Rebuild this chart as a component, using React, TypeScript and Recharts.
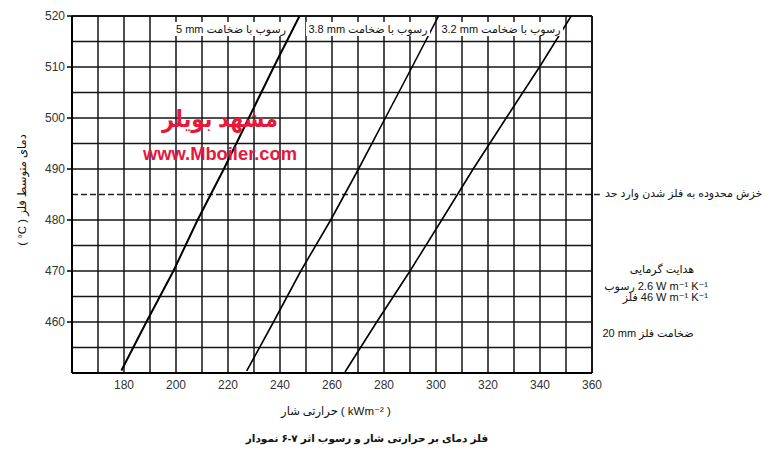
import React from "react";
import { LineChart, Line, XAxis, YAxis, ReferenceLine } from "recharts";

// Heat flux (kW/m^2) vs mean metal temperature (°C)
const deposit5mm = [
  { x: 179, y: 450.5 }, { x: 188.6, y: 460 }, { x: 199, y: 470 }, { x: 208.3, y: 480 },
  { x: 218.4, y: 490 }, { x: 228, y: 500 }, { x: 237.6, y: 510 }, { x: 247.5, y: 520 },
];
const deposit38mm = [
  { x: 227.2, y: 450.4 }, { x: 237.5, y: 460 }, { x: 248, y: 470 }, { x: 259.5, y: 480 },
  { x: 270.2, y: 490 }, { x: 280.5, y: 500 }, { x: 290.8, y: 510 }, { x: 301, y: 520 },
];
const deposit32mm = [
  { x: 265, y: 450.2 }, { x: 277.2, y: 460 }, { x: 290, y: 470 }, { x: 302.2, y: 480 },
  { x: 314.3, y: 490 }, { x: 327, y: 500 }, { x: 339.8, y: 510 }, { x: 352, y: 520 },
];

const xTicks = [180, 200, 220, 240, 260, 280, 300, 320, 340, 360];
const yTicks = [460, 470, 480, 490, 500, 510, 520];
const gridX = [160, 170, 180, 190, 200, 210, 220, 230, 240, 250, 260, 270, 280, 290, 300, 310, 320, 330, 340, 350, 360];
const gridY = [450, 455, 460, 465, 470, 475, 480, 490, 495, 500, 505, 510, 515, 520];
const creepLimit = 485;

// Text (word lists in reading order)
const label5mm = ["رسوب", "با", "ضخامت", "5 mm"];
const label38mm = ["رسوب", "با", "ضخامت", "3.8 mm"];
const label32mm = ["رسوب", "با", "ضخامت", "3.2 mm"];
const creepText = ["حد", "وارد", "شدن", "فلز", "به", "محدوده", "خزش"];
const conductTitle = ["هدایت", "گرمایی"];
const conductDeposit = ["رسوب", "2.6 W m⁻¹ K⁻¹"];
const conductMetal = ["فلز", "46 W m⁻¹ K⁻¹"];
const metalThickness = ["ضخامت", "فلز", "20 mm"];
const xLabel = ["شار", "حرارتی", "( kWm⁻² )"];
const yLabel = ["دمای", "متوسط", "فلز", "( °C )"];
const caption = ["نمودار", "۶-۷", "اثر", "رسوب", "و", "شار", "حرارتی", "بر", "دمای", "فلز"];
const watermark1 = "مشهد بویلر";
const watermark2 = "www.Mboiler.com";

const FONT = "'Liberation Sans', 'DejaVu Sans', sans-serif";
const GRID = "#151515";

type WordsProps = {
  x: number;
  baseline: number;
  fs: number;
  words: string[];
  align: "left" | "center" | "right";
  rtl?: boolean;
  bold?: boolean;
  bg?: boolean;
  rotate?: boolean;
};

function Words({ x, baseline, fs, words, align, rtl, bold, bg, rotate }: WordsProps) {
  const lh = Math.ceil(fs * 1.2);
  const off = (lh - 1.117 * fs) / 2 + 0.905 * fs;
  const W = 400;
  const left = align === "center" ? x - W / 2 : align === "right" ? x - W : x;
  return (
    <div
      style={{
        position: "absolute",
        left,
        top: baseline - off,
        width: W,
        height: lh,
        display: "flex",
        justifyContent: align === "center" ? "center" : align === "right" ? "flex-end" : "flex-start",
        transform: rotate ? "rotate(-90deg)" : undefined,
        transformOrigin: "50% " + off + "px",
        pointerEvents: "none",
      }}
    >
      <div
        style={{
          display: "flex",
          flexDirection: rtl ? "row-reverse" : "row",
          alignItems: "baseline",
          gap: Math.round(fs * 0.3),
          fontFamily: FONT,
          fontSize: fs,
          lineHeight: lh + "px",
          fontWeight: bold ? "bold" : "normal",
          color: "#111",
          whiteSpace: "nowrap",
          background: bg ? "#fff" : "transparent",
          padding: bg ? "0 2px" : 0,
        }}
      >
        {words.map((w, i) => (
          <span key={i}>{w}</span>
        ))}
      </div>
    </div>
  );
}

export default function App() {
  return (
    <div style={{ position: "absolute", left: 0, top: 0, width: 766, height: 461, background: "#fff", overflow: "hidden" }}>
      <LineChart width={766} height={461} margin={{ top: 16, right: 174, bottom: 58, left: 32 }}>
        <XAxis
          type="number"
          dataKey="x"
          domain={[160, 360]}
          ticks={xTicks}
          allowDataOverflow
          tickLine={false}
          tickMargin={1}
          height={30}
          axisLine={{ stroke: "#000", strokeWidth: 2 }}
          tick={{ fill: "#333", fontSize: 12, fontFamily: FONT }}
        />
        <YAxis
          type="number"
          domain={[450, 520]}
          ticks={yTicks}
          allowDataOverflow
          width={40}
          tickSize={5}
          tickMargin={2}
          axisLine={{ stroke: "#000", strokeWidth: 2 }}
          tickLine={{ stroke: "#000", strokeWidth: 1.5 }}
          tick={{ fill: "#333", fontSize: 12, fontFamily: FONT }}
        />
        {gridX.map((v) => (
          <ReferenceLine key={"gx" + v} x={v} stroke={GRID} strokeWidth={v === 160 || v === 360 ? 2 : 1.5} />
        ))}
        {gridY.map((v) => (
          <ReferenceLine key={"gy" + v} y={v} stroke={GRID} strokeWidth={v === 450 || v === 520 ? 2 : 1.5} />
        ))}
        <ReferenceLine
          segment={[{ x: 160, y: creepLimit }, { x: 363, y: creepLimit }]}
          ifOverflow="visible"
          stroke="#222"
          strokeWidth={1.3}
          strokeDasharray="6 3"
        />
        <Line data={deposit5mm} dataKey="y" type="linear" stroke="#000" strokeWidth={2} dot={false} isAnimationActive={false} />
        <Line data={deposit38mm} dataKey="y" type="linear" stroke="#000" strokeWidth={1.6} dot={false} isAnimationActive={false} />
        <Line data={deposit32mm} dataKey="y" type="linear" stroke="#000" strokeWidth={1.6} dot={false} isAnimationActive={false} />
      </LineChart>

      <Words x={231} baseline={32.5} fs={11} words={label5mm} align="center" rtl bg />
      <Words x={368} baseline={32.5} fs={11} words={label38mm} align="center" rtl bg />
      <Words x={501} baseline={32.5} fs={11} words={label32mm} align="center" rtl bg />

      <Words x={605} baseline={197} fs={11} words={creepText} align="left" />
      <Words x={662} baseline={273} fs={11} words={conductTitle} align="center" rtl />
      <Words x={708} baseline={290} fs={11} words={conductDeposit} align="right" />
      <Words x={708} baseline={300.5} fs={11} words={conductMetal} align="right" />
      <Words x={648} baseline={336.5} fs={11} words={metalThickness} align="center" rtl />

      <Words x={336} baseline={415} fs={11.5} words={xLabel} align="center" />
      <Words x={26} baseline={190} fs={11.5} words={yLabel} align="center" rtl rotate />
      <Words x={367} baseline={442} fs={10.5} words={caption} align="center" bold />

      <svg width={766} height={461} style={{ position: "absolute", left: 0, top: 0, pointerEvents: "none" }}>
        <g fill="#e8173c" fontWeight="bold" fontFamily={FONT}>
          <text x={220} y={127} textAnchor="middle" fontSize={24} textLength={116} lengthAdjust="spacingAndGlyphs">{watermark1}</text>
          <text x={220} y={160} textAnchor="middle" fontSize={18} textLength={154} lengthAdjust="spacingAndGlyphs">{watermark2}</text>
        </g>
      </svg>
    </div>
  );
}
